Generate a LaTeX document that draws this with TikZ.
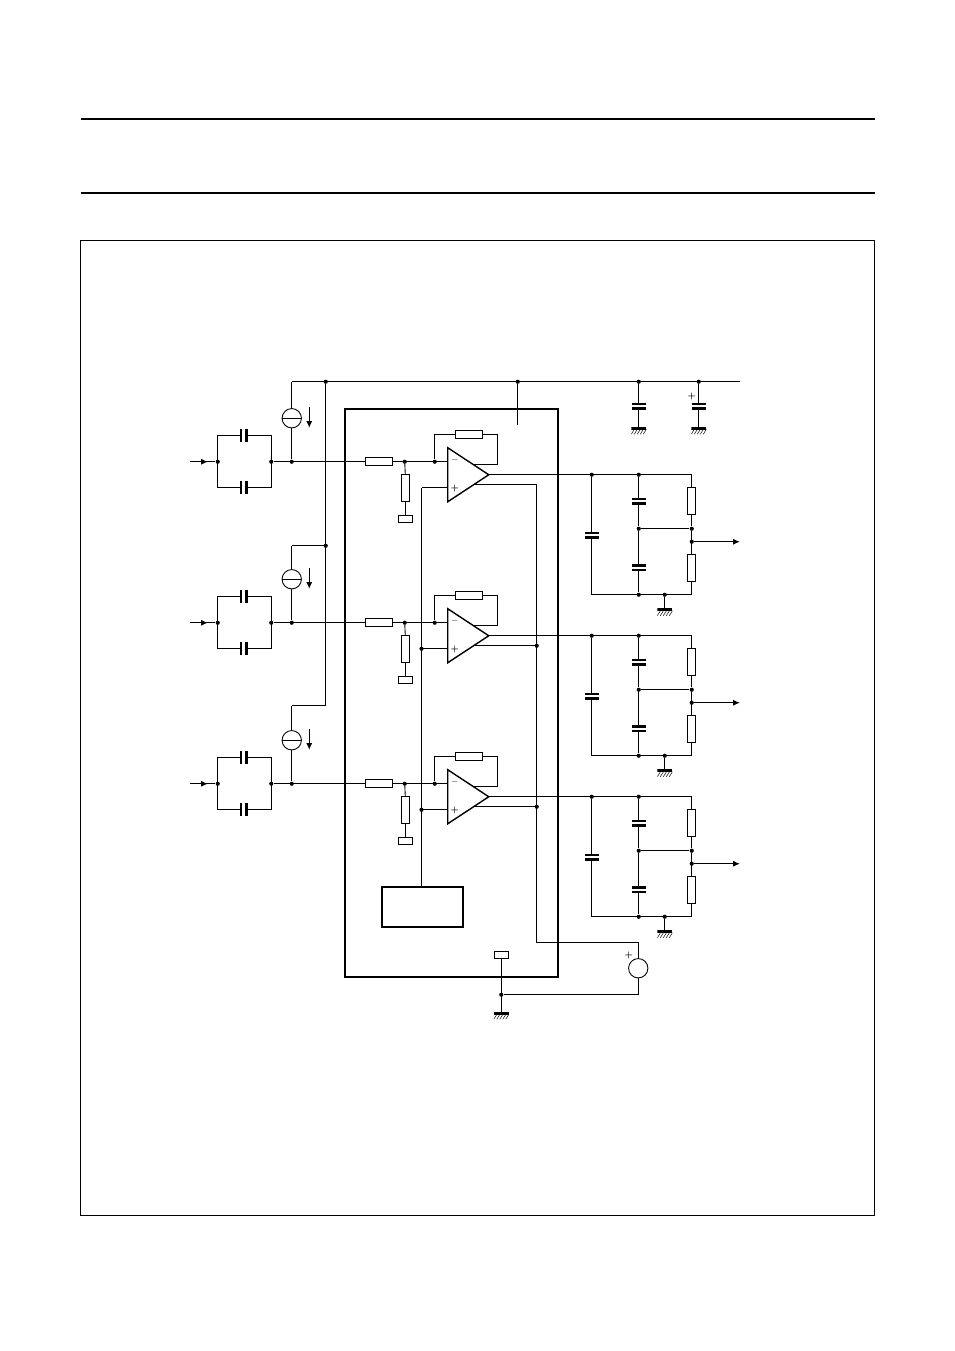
\documentclass[tikz,border=0pt]{standalone}
\usepackage{amsmath}
\usepackage{tikz}
\usetikzlibrary{arrows.meta,positioning}
\tikzset{
    wire/.style={line width=.75pt},
    junction/.style={circle,fill=black,inner sep=0pt,minimum size=.125cm},
    reshor/.style={draw,line width=.8pt,inner sep=0pt,minimum width=.82cm,minimum height=.24cm},
    resver/.style={draw,line width=.8pt,inner sep=0pt,minimum width=.24cm,minimum height=.82cm},
    pad/.style={draw,line width=.7pt,inner sep=0pt,minimum width=.42cm,minimum height=.2cm},
    capver/.style={inner sep=0pt,minimum width=.42cm,minimum height=.21cm,path picture={
        \fill (path picture bounding box.north west) rectangle ([yshift=-.07cm]path picture bounding box.north east);
        \fill (path picture bounding box.south west) rectangle ([yshift=.07cm]path picture bounding box.south east);}},
    caphor/.style={inner sep=0pt,minimum width=.24cm,minimum height=.39cm,path picture={
        \fill (path picture bounding box.north west) rectangle ([xshift=.08cm]path picture bounding box.south west);
        \fill (path picture bounding box.north east) rectangle ([xshift=-.08cm]path picture bounding box.south east);}},
    gnd/.style={inner sep=0pt,anchor=north,minimum width=.45cm,minimum height=.22cm,path picture={
        \fill (path picture bounding box.north west) rectangle ([yshift=-.08cm]path picture bounding box.north east);
        \foreach \h in {0,...,4} \draw[line width=.4pt] ([xshift=\h*.09cm]path picture bounding box.south west) -- ++(.1cm,.16cm);}},
    isource/.style={circle,draw,line width=.75pt,inner sep=0pt,minimum size=.58cm,path picture={
        \draw[line width=.75pt] (path picture bounding box.west) -- (path picture bounding box.east);}},
    vsource/.style={circle,draw,line width=.75pt,inner sep=0pt,minimum size=.58cm},
    amp/.style={line width=1.2pt,line join=miter},
    sign/.style={inner sep=0pt,font=\scriptsize\bfseries}
}

\begin{document}
\begin{tikzpicture}[x=.03cm,y=-.03cm,>={Latex[length=.2cm,width=.18cm]}]
        \useasboundingbox (.25,.25) rectangle (954.25,1351.25);
        \draw[line width=1.3pt] (80.75,119.25)--(874.75,119.25);
        \draw[line width=1.3pt] (80.75,193.25)--(874.75,193.25);
        \draw[line width=.75pt] (80.75,240.75) rectangle (874.75,1215.25);
        \node[draw,line width=1.7pt,inner sep=0pt,minimum width=6.39cm,minimum height=17.04cm] (IC) at (451.5,693) {};
        \node[draw,line width=1.6pt,inner sep=0pt,minimum width=2.43cm,minimum height=1.19cm] (REF) at (422.5,907.5) {};
        % supply rail
        \coordinate (RAILL) at (292,382);
        \coordinate (RAILR) at (740,382);
        \node[junction] (VCC) at (326,382) {};
        \node[junction] (VIC) at (518,382) {};
        \node[junction] (VC1) at (639,382) {};
        \node[junction] (VC2) at (699,382) {};
        \coordinate (VICEND) at (518,425);
        \node[capver] (CS1) at (639,406.5) {};
        \node[capver] (CS2) at (699,406.5) {};
        \node[gnd] (GS1) at (639,427) {};
        \node[gnd] (GS2) at (699,427) {};
        \node[sign] (CS2P) at (692,397) {+};
        \draw[wire] (RAILL)--(RAILR);
        \draw[wire] (VIC)--(VICEND);
        \draw[wire] (VC1)--(CS1.north);
        \draw[wire] (CS1.south)--(GS1.north);
        \draw[wire] (VC2)--(CS2.north);
        \draw[wire] (CS2.south)--(GS2.north);
        % three channels
        \foreach \r/\d/\t in {1/0/382,2/161/546,3/322/706} {
            \coordinate (IN\r) at (190,462+\d);
            \coordinate (INT\r) at (208,462+\d);
            \node[junction] (INL\r) at (218,462+\d) {};
            \node[junction] (INR\r) at (271.5,462+\d) {};
            \coordinate (CUL\r) at (218,436+\d);
            \coordinate (CUR\r) at (271.5,436+\d);
            \coordinate (CLL\r) at (218,488+\d);
            \coordinate (CLR\r) at (271.5,488+\d);
            \node[caphor] (CU\r) at (244,436+\d) {};
            \node[caphor] (CL\r) at (244,488+\d) {};
            \node[junction] (SRCJ\r) at (292,462+\d) {};
            \node[isource] (SRC\r) at (292,418.5+\d) {};
            \coordinate (SRCT\r) at (292,\t);
            \coordinate (RAIL\r) at (326,\t);
            \coordinate (SRCA\r) at (309.5,407+\d);
            \coordinate (SRCB\r) at (309.5,428+\d);
            \node[reshor] (RI\r) at (379,462+\d) {};
            \node[junction] (J\r) at (405,462+\d) {};
            \node[junction] (JF\r) at (435,462+\d) {};
            \node[resver] (RV\r) at (405.5,488.5+\d) {};
            \node[pad] (PAD\r) at (405.5,519+\d) {};
            \node[reshor] (RF\r) at (469.5,435+\d) {};
            \coordinate (FL\r) at (435,435+\d);
            \coordinate (FR\r) at (498,435+\d);
            \coordinate (FE\r) at (498,465+\d);
            \coordinate (FA\r) at (474,465+\d);
            % amplifier
            \coordinate (AU\r) at (448,448+\d);
            \coordinate (AD\r) at (448,502+\d);
            \coordinate (AO\r) at (489,475+\d);
            \coordinate (AN\r) at (448,462+\d);
            \coordinate (AP\r) at (448,488+\d);
            \coordinate (AB\r) at (474,485+\d);
            \coordinate (PL\r) at (421.75,488+\d);
            \coordinate (BS\r) at (537,485+\d);
            \node[sign] (MIN\r) at (455,461.5+\d) {--};
            \node[sign] (PLU\r) at (455,488.5+\d) {+};
            % output filter
            \node[junction] (OA\r) at (592,475+\d) {};
            \node[junction] (OB\r) at (639,475+\d) {};
            \coordinate (OC\r) at (692,475+\d);
            \node[capver] (CA\r) at (592,535.5+\d) {};
            \node[capver] (CB\r) at (639,501.5+\d) {};
            \node[capver] (CC\r) at (639,568+\d) {};
            \node[resver] (RB\r) at (692,501.5+\d) {};
            \node[resver] (RC\r) at (692,568.5+\d) {};
            \node[junction] (MB\r) at (639,529+\d) {};
            \node[junction] (MR\r) at (692,529+\d) {};
            \node[junction] (OUT\r) at (692,542+\d) {};
            \coordinate (OUTE\r) at (740,542+\d);
            \coordinate (BL\r) at (592,595+\d);
            \node[junction] (BB\r) at (639,595+\d) {};
            \node[junction] (BG\r) at (665,595+\d) {};
            \coordinate (BR\r) at (692,595+\d);
            \node[gnd] (GO\r) at (665,608.5+\d) {};
            % connections
            \draw[wire] (IN\r)--(INL\r);
            \draw[wire,->] (IN\r)--(INT\r);
            \draw[wire] (CU\r.west)--(CUL\r)--(CLL\r)--(CL\r.west);
            \draw[wire] (CU\r.east)--(CUR\r)--(CLR\r)--(CL\r.east);
            \draw[wire] (INR\r)--(RI\r.west);
            \draw[wire] (SRCT\r)--(SRC\r.north);
            \draw[wire] (SRC\r.south)--(SRCJ\r);
            \draw[wire] (SRCT\r)--(RAIL\r);
            \draw[wire,->] (SRCA\r)--(SRCB\r);
            \draw[wire] (RI\r.east)--(AN\r);
            \draw[wire] (J\r)--(RV\r.north);
            \draw[wire] (RV\r.south)--(PAD\r.north);
            \draw[wire] (JF\r)--(FL\r)--(RF\r.west);
            \draw[wire] (RF\r.east)--(FR\r)--(FE\r)--(FA\r);
            \draw[amp] (AU\r)--(AO\r)--(AD\r)--cycle;
            \draw[wire] (AP\r)--(PL\r);
            \draw[wire] (AB\r)--(BS\r);
            \draw[wire] (AO\r)--(OC\r)--(RB\r.north);
            \draw[wire] (OA\r)--(CA\r.north);
            \draw[wire] (CA\r.south)--(BL\r)--(BR\r)--(RC\r.south);
            \draw[wire] (OB\r)--(CB\r.north);
            \draw[wire] (CB\r.south)--(MB\r)--(CC\r.north);
            \draw[wire] (CC\r.south)--(BB\r);
            \draw[wire] (RB\r.south)--(MR\r)--(RC\r.north);
            \draw[wire] (MB\r)--(MR\r);
            \draw[wire,->] (OUT\r)--(OUTE\r);
            \draw[wire] (BG\r)--(GO\r.north);
        }
        \draw[wire] (VCC)--(RAIL3);
        \node[junction] (RJ2) at (RAIL2) {};
        \node[junction] (PJ2) at (PL2) {};
        \node[junction] (PJ3) at (PL3) {};
        \node[junction] (BJ2) at (BS2) {};
        \node[junction] (BJ3) at (BS3) {};
        \coordinate (REFT) at (421.75,887.5);
        \draw[wire] (PL1)--(PL2)--(PL3)--(REFT);
        % reference source and ground
        \coordinate (BT) at (537,942.5);
        \coordinate (BV) at (638.5,942.5);
        \coordinate (BW) at (638.5,995);
        \node[vsource] (VS) at (638.5,968.5) {};
        \node[sign] (VSP) at (629,956) {+};
        \node[pad] (GP) at (501.5,955) {};
        \node[junction] (GJ) at (501.5,995) {};
        \node[gnd] (GM) at (501.5,1012) {};
        \draw[wire] (BS1)--(BT)--(BV)--(VS.north);
        \draw[wire] (VS.south)--(BW)--(GJ);
        \draw[wire] (GP.south)--(GM.north);
    \end{tikzpicture}
\end{document}
